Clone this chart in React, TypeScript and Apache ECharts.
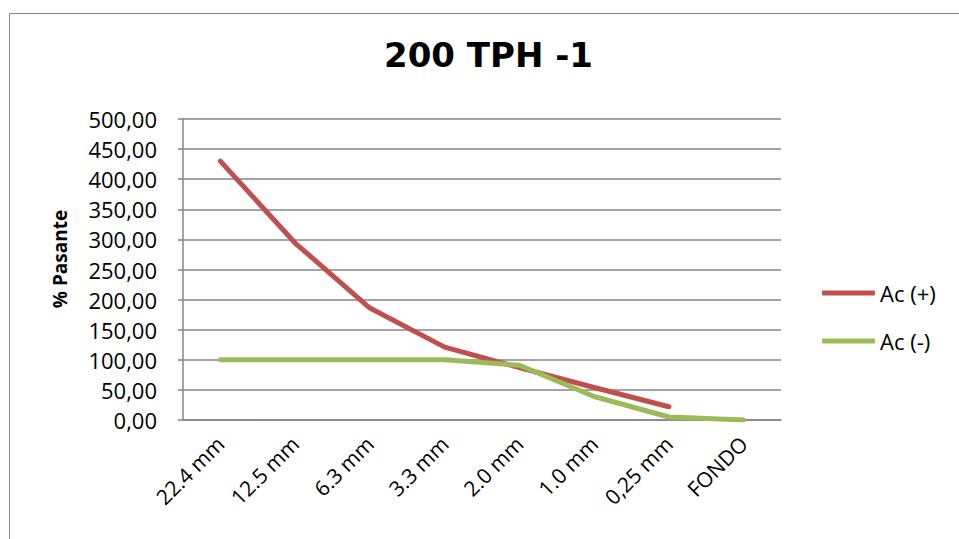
import React, { useEffect, useRef } from "react";
import * as echarts from "echarts";

const categories = ["22.4 mm", "12.5 mm", "6.3 mm", "3.3 mm", "2.0 mm", "1.0 mm", "0,25 mm", "FONDO"];
const acPlus = [430, 294, 186, 121, 87, 54, 22, null];
const acMinus = [100, 100, 100, 100, 91, 39, 5, 0];
const titleText = "200 TPH -1";
const yAxisName = "% Pasante";

export default function App() {
  const ref = useRef<HTMLDivElement>(null);
  useEffect(() => {
    if (!ref.current) return;
    const chart = echarts.init(ref.current, null, { renderer: "svg" });
    const labelFont = "Open Sans";
    chart.setOption({
      animation: false,
      backgroundColor: "#ffffff",
      title: {
        text: titleText,
        left: 384,
        top: 38,
        padding: 0,
        textStyle: { fontFamily: "DejaVu Sans", fontWeight: "bold", fontSize: 34, color: "#000" },
      },
      legend: {
        orient: "vertical",
        left: 822,
        top: 282,
        padding: 0,
        itemWidth: 53,
        itemHeight: 5,
        itemGap: 26,
        icon: "roundRect",
        textStyle: { fontFamily: labelFont, fontSize: 22, color: "#000", lineHeight: 22 },
        data: ["Ac (+)", "Ac (-)"],
      },
      grid: { left: 183, right: 178, top: 119, bottom: 119, containLabel: false },
      xAxis: {
        type: "category",
        data: categories,
        boundaryGap: true,
        axisLine: { lineStyle: { color: "#868686", width: 1.5 } },
        axisTick: { show: false },
        axisLabel: {
          rotate: 45,
          margin: 20,
          interval: 0,
          fontFamily: labelFont,
          fontSize: 21,
          color: "#000",
        },
      },
      yAxis: {
        type: "value",
        min: 0,
        max: 500,
        interval: 50,
        axisLine: { show: true, lineStyle: { color: "#868686", width: 1.5 } },
        axisTick: { show: true, length: 5, lineStyle: { color: "#868686", width: 1.5 } },
        splitLine: { lineStyle: { color: "#868686", width: 1.5 } },
        axisLabel: {
          margin: 26,
          fontFamily: labelFont,
          fontSize: 22,
          color: "#000",
          formatter: (v: number) => v.toFixed(2).replace(".", ","),
        },
      },
      graphic: [
        {
          type: "rect",
          shape: { x: 9.5, y: 13.5, width: 1000, height: 600 },
          style: { fill: "none", stroke: "#888888", lineWidth: 1 },
          silent: true,
        },
        {
          type: "text",
          x: 60,
          y: 259,
          rotation: Math.PI / 2,
          style: {
            text: yAxisName,
            fontFamily: "Open Sans",
            fontWeight: "bold",
            fontSize: 19,
            fill: "#000",
            textAlign: "center",
            textVerticalAlign: "middle",
          },
        },
      ],
      series: [
        {
          name: "Ac (+)",
          type: "line",
          data: acPlus,
          symbol: "none",
          smooth: false,
          itemStyle: { color: "#C0504D" },
          lineStyle: { color: "#C0504D", width: 5, cap: "round", join: "round" },
        },
        {
          name: "Ac (-)",
          type: "line",
          data: acMinus,
          symbol: "none",
          smooth: false,
          itemStyle: { color: "#9BBB59" },
          lineStyle: { color: "#9BBB59", width: 5, cap: "round", join: "round" },
        },
      ],
    });
    return () => chart.dispose();
  }, []);
  return (
    <div
      ref={ref}
      style={{ position: "absolute", left: 0, top: 0, width: 959, height: 539, background: "#fff" }}
    />
  );
}
